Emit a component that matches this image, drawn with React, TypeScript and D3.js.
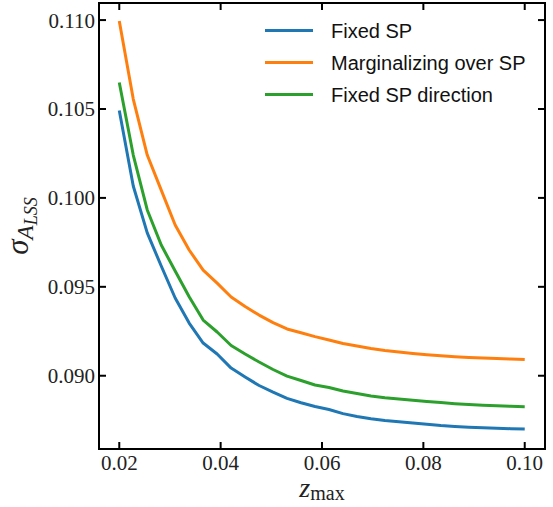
import React from "react";
import * as d3 from "d3";

const zmax = [
  0.02, 0.02276, 0.02552, 0.02828, 0.03103, 0.03379, 0.03655, 0.03931, 0.04207, 0.04483,
  0.04759, 0.05034, 0.0531, 0.05586, 0.05862, 0.06138, 0.06414, 0.0669, 0.06966, 0.07241,
  0.07517, 0.07793, 0.08069, 0.08345, 0.08621, 0.08897, 0.09172, 0.09448, 0.09724, 0.1,
];

const fixedSP = [
  0.10492, 0.10067, 0.09803, 0.09617, 0.09437, 0.09296, 0.09184, 0.09122, 0.09043, 0.08993,
  0.08945, 0.08908, 0.08873, 0.08848, 0.08827, 0.0881, 0.08787, 0.08771, 0.08758, 0.08748,
  0.08741, 0.08734, 0.08727, 0.0872, 0.08715, 0.08711, 0.08708, 0.08705, 0.08702, 0.087,
];

const marginalSP = [
  0.10995, 0.10556, 0.10241, 0.10044, 0.09848, 0.09707, 0.09594, 0.09521, 0.09443, 0.09389,
  0.09341, 0.09299, 0.09263, 0.09242, 0.0922, 0.09201, 0.09181, 0.09167, 0.09153, 0.09142,
  0.09133, 0.09125, 0.09118, 0.09112, 0.09107, 0.09103, 0.091, 0.09097, 0.09094, 0.09091,
];

const fixedDir = [
  0.10649, 0.10241, 0.09932, 0.09735, 0.09589, 0.09444, 0.09313, 0.09246, 0.0917, 0.09122,
  0.09077, 0.09035, 0.08998, 0.08973, 0.08948, 0.08934, 0.08914, 0.089, 0.08886, 0.08876,
  0.08869, 0.08862, 0.08855, 0.08849, 0.08843, 0.08838, 0.08834, 0.08831, 0.08828, 0.08826,
];

const seriesNames = ["Fixed SP", "Marginalizing over SP", "Fixed SP direction"];
const seriesColors = ["#1f77b4", "#ff7f0e", "#2ca02c"];
const xTicks = [0.02, 0.04, 0.06, 0.08, 0.1];
const xTickLabels = ["0.02", "0.04", "0.06", "0.08", "0.10"];
const yTicks = [0.09, 0.095, 0.1, 0.105, 0.11];
const yTickLabels = ["0.090", "0.095", "0.100", "0.105", "0.110"];

const W = 553;
const H = 507;
const L = 99;
const R = 545;
const T = 3;
const B = 449;

export default function App() {
  const x = d3.scaleLinear().domain([0.016, 0.104]).range([L, R]);
  const y = d3.scaleLinear().domain([0.08588, 0.11096]).range([B, T]);
  const seriesValues = [fixedSP, marginalSP, fixedDir];
  const line = d3
    .line<number>()
    .x((_, i) => x(zmax[i]))
    .y((d) => y(d));
  const tickLen = 7;
  const serif = "'Liberation Serif', 'DejaVu Serif', serif";
  const sans = "'Liberation Sans', 'DejaVu Sans', sans-serif";

  return (
    <svg
      width={W}
      height={H}
      style={{ position: "absolute", left: 0, top: 0, background: "#fff" }}
    >
      <rect x={0} y={0} width={W} height={H} fill="#fff" />
      <defs>
        <clipPath id="plotclip">
          <rect x={L} y={T} width={R - L} height={B - T} />
        </clipPath>
      </defs>
      <g clipPath="url(#plotclip)">
        {seriesValues.map((vals, i) => (
          <path
            key={i}
            d={line(vals) || ""}
            fill="none"
            stroke={seriesColors[i]}
            strokeWidth={3}
            strokeLinejoin="round"
          />
        ))}
      </g>
      {xTicks.map((t, i) => (
        <g key={"xt" + i}>
          <line x1={x(t)} x2={x(t)} y1={B} y2={B - tickLen} stroke="#000" strokeWidth={2} />
          <line x1={x(t)} x2={x(t)} y1={T} y2={T + tickLen} stroke="#000" strokeWidth={2} />
          <text
            x={x(t)}
            y={470}
            textAnchor="middle"
            fontFamily={serif}
            fontSize={21}
            fill="#222"
          >
            {xTickLabels[i]}
          </text>
        </g>
      ))}
      {yTicks.map((t, i) => (
        <g key={"yt" + i}>
          <line x1={L} x2={L + tickLen} y1={y(t)} y2={y(t)} stroke="#000" strokeWidth={2} />
          <line x1={R} x2={R - tickLen} y1={y(t)} y2={y(t)} stroke="#000" strokeWidth={2} />
          <text
            x={95}
            y={y(t) + 7.5}
            textAnchor="end"
            fontFamily={serif}
            fontSize={21}
            fill="#222"
          >
            {yTickLabels[i]}
          </text>
        </g>
      ))}
      <rect x={L} y={T} width={R - L} height={B - T} fill="none" stroke="#000" strokeWidth={2} />
      {seriesNames.map((name, i) => {
        const ly = 30.5 + i * 32;
        return (
          <g key={"lg" + i}>
            <line x1={265} x2={313} y1={ly} y2={ly} stroke={seriesColors[i]} strokeWidth={3} />
            <text x={331} y={ly + 7} fontFamily={sans} fontSize={20} fill="#111">
              {name}
            </text>
          </g>
        );
      })}
      <text x={322} y={497} textAnchor="middle" fontFamily={serif} fill="#222">
        <tspan fontStyle="italic" fontSize={28}>z</tspan>
        <tspan fontSize={20} dy={3}>max</tspan>
      </text>
      <text
        transform="translate(28,226) rotate(-90)"
        textAnchor="middle"
        fontFamily={serif}
        fill="#222"
      >
        <tspan fontStyle="italic" fontSize={31}>σ</tspan>
        <tspan fontStyle="italic" fontSize={23} dy={5}>A</tspan>
        <tspan fontStyle="italic" fontSize={18} dy={4}>LSS</tspan>
      </text>
    </svg>
  );
}
